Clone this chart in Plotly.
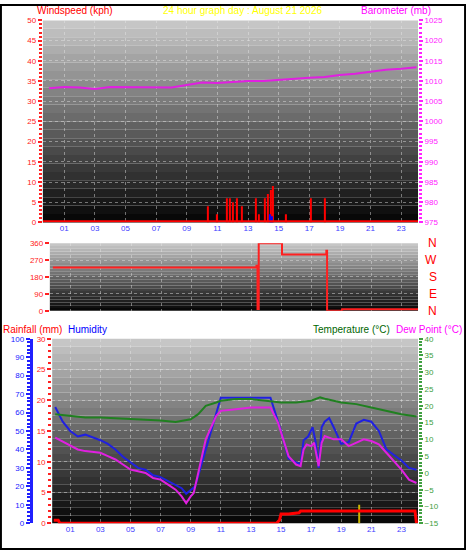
import plotly.graph_objects as go

# barometer (mb)
baro_h = [0, 1, 2, 3, 4, 5, 6, 7, 8, 9, 10, 11, 12, 13, 14, 15, 16, 17, 18, 19, 20, 21, 22, 23, 24]
baro = [1008.2, 1008.5, 1008.4, 1008.0, 1008.5, 1008.5, 1008.5, 1008.5, 1008.4, 1009.0, 1009.6, 1009.5,
        1009.8, 1010.0, 1010.0, 1010.3, 1010.6, 1010.8, 1011.0, 1011.5, 1011.8, 1012.3, 1012.8, 1013.0, 1013.4]

# wind speed (kph)
wind_h = [10.4, 11.0, 11.6, 11.8, 12.0, 12.3, 12.6, 13.5, 13.7, 14.1, 14.3, 14.5, 14.65, 15.5, 17.1, 18.0]
wind = [4, 2, 6, 6, 5, 6, 4, 6, 2, 6, 7, 8, 9, 2, 6, 6]
gust_h = [14.4, 14.55]
gust = [2, 1.5]

# wind direction (deg)
dir_h = [-0.2, 13.2, 13.35, 13.42, 13.5, 15.0, 15.05, 17.9, 18.0, 18.05, 19.0, 19.05, 24.1]
wdir = [230, 230, 240, 10, 360, 360, 300, 300, 320, 0, 0, 8, 8]

# temperature (C)
temp_h = [0, 1, 2, 3, 4, 5, 6, 7, 8, 9, 9.5, 10, 10.7, 11, 12, 13, 14, 15, 16, 17, 17.6, 18, 19, 20, 21, 22, 23, 24]
temp = [17.5, 17, 16.5, 16.5, 16.3, 16, 15.8, 15.6, 15.2, 16, 17.5, 20, 21, 21.5, 22, 22, 21.5, 21, 21, 21.5, 22.5, 22, 21, 20.5, 19.5, 18.5, 17.5, 16.8]

# humidity (%)
hum_h = [0, 0.5, 1.0, 1.5, 2, 3, 3.5, 4, 4.5, 5, 5.5, 6, 6.5, 7, 7.5, 8, 8.4, 8.7, 9.0, 9.3, 10, 10.7, 11, 12, 13, 14.3,
         15, 15.5, 16, 16.3, 16.5, 16.8, 17.1, 17.3, 17.5, 17.7, 17.9, 18.2, 18.5, 19, 19.5, 20, 20.5, 21, 21.5, 22,
         22.5, 23, 23.5, 24]
hum = [63, 55, 50, 47, 48, 45, 43, 40, 36, 33, 30, 29, 26, 25, 23, 21, 19, 16, 18, 20, 40, 60, 68, 68, 68, 68,
       50, 35, 33, 32, 45, 47, 52, 44, 30, 52, 55, 57, 52, 43, 44, 54, 56, 55, 50, 40,
       37, 34, 30, 29]

# dew point (C)
dew_h = [0, 1, 1.5, 2, 3, 3.5, 4, 4.5, 5, 5.5, 6, 6.5, 7, 7.5, 8, 8.4, 8.7, 9.0, 9.2, 9.5, 10, 10.7, 11, 12, 13, 14.3,
         14.8, 15.5, 16, 16.3, 16.5, 16.7, 17.0, 17.2, 17.5, 17.7, 17.9, 18.5, 19, 19.5, 20, 20.5, 21, 21.5, 22, 23,
         23.5, 24]
dew = [10.5, 8, 7, 6.5, 6, 5, 4, 2.5, 1, 0.5, 0, -1.5, -2, -3.5, -5, -7, -9, -7, -6, 0, 10, 17, 18.5, 19, 19.5, 19.5,
       15, 5, 2.5, 2, 7, 8.5, 8, 9, 2, 9, 11, 10, 10, 8, 9, 10, 9.5, 8.5, 6, 1,
       -2, -3]

# rainfall (mm)
rain_h = [-0.1, 0.2, 0.3, 14.7, 14.9, 15.0, 15.5, 16.2, 16.3, 23.9, 24.0]
rain = [0.5, 0.5, 0, 0, 0.5, 1.5, 1.5, 1.7, 2.0, 2.0, 0]
rate_h = [20.2]
rate = [3]

hours = list(range(0, 25))
compass = ["N", "E", "S", "W", "N"]  # 0, 90, 180, 270, 360

fig = go.Figure()

D1 = [0.6, 0.97]
D2 = [0.438, 0.562]
D3 = [0.049, 0.387]
X1 = [0.092, 0.897]
X2 = [0.107, 0.897]
X3 = [0.112, 0.897]

# panel 1
fig.add_trace(go.Bar(x=wind_h, y=wind, width=0.08, marker_color="#ff0000", marker_line_width=0,
                     xaxis="x", yaxis="y"))
fig.add_trace(go.Bar(x=gust_h, y=gust, width=0.08, marker_color="#0000ff", marker_line_width=0,
                     xaxis="x", yaxis="y"))
fig.add_trace(go.Scatter(x=[-0.4, 24.1], y=[0.3, 0.3], mode="lines", line=dict(color="#ff0000", width=2),
                         xaxis="x", yaxis="y"))
fig.add_trace(go.Scatter(x=baro_h, y=baro, mode="lines", line=dict(color="#e020e0", width=2),
                         xaxis="x", yaxis="y2"))
# panel 2
fig.add_trace(go.Scatter(x=dir_h, y=wdir, mode="lines", line=dict(color="#ff2020", width=2, shape="hv"),
                         xaxis="x2", yaxis="y3"))
# panel 3
fig.add_trace(go.Scatter(x=temp_h, y=temp, mode="lines", line=dict(color="#208020", width=2),
                         xaxis="x3", yaxis="y6"))
fig.add_trace(go.Scatter(x=hum_h, y=hum, mode="lines", line=dict(color="#2020e0", width=2),
                         xaxis="x3", yaxis="y4"))
fig.add_trace(go.Scatter(x=dew_h, y=dew, mode="lines", line=dict(color="#e020e0", width=2),
                         xaxis="x3", yaxis="y6"))
fig.add_trace(go.Bar(x=rate_h, y=rate, width=0.07, marker_color="#c8b400", marker_line_width=0,
                     xaxis="x3", yaxis="y5"))
fig.add_trace(go.Scatter(x=rain_h, y=rain, mode="lines", line=dict(color="#ff0000", width=3),
                         xaxis="x3", yaxis="y5"))

font = "Liberation Sans"
grid = dict(showgrid=True, gridcolor="rgba(230,230,230,0.45)", griddash="dot", gridwidth=1, zeroline=False)
xcommon = dict(tickmode="array", tickvals=[h for h in hours if h % 2 == 1],
               ticktext=["%02d" % h for h in hours if h % 2 == 1],
               tickfont=dict(color="#4040ff", size=8, family=font), ticks="", **grid)

def yax(color, rng, dtick, **kw):
    d = dict(range=rng, dtick=dtick, tickfont=dict(color=color, size=8, family=font),
             ticks="outside", ticklen=4, tickcolor=color, tickwidth=2,
             minor=dict(ticks="outside", ticklen=3, tickcolor=color, tickwidth=2, nticks=5, showgrid=False),
             fixedrange=True)
    d.update(grid)
    d.update(kw)
    return d

fig.update_layout(
    width=466, height=555, margin=dict(l=0, r=0, t=0, b=0),
    paper_bgcolor="white", plot_bgcolor="rgba(0,0,0,0)", showlegend=False, barmode="overlay",
    xaxis=dict(domain=X1, range=[-0.4, 24.1], anchor="y", **xcommon),
    xaxis2=dict(domain=X2, range=[-0.4, 24.1], anchor="y3", showticklabels=False,
                **{k: v for k, v in xcommon.items() if k != "tickfont"}),
    xaxis3=dict(domain=X3, range=[-0.2, 24.1], anchor="y5", **xcommon),
    yaxis=yax("#ff2020", [0, 50], 5, domain=D1, anchor="x"),
    yaxis2=yax("#ff20ff", [975, 1025], 5, domain=D1, overlaying="y", side="right", anchor="x", showgrid=False),
    yaxis3=yax("#ff2020", [0, 360], 90, domain=D2, anchor="x2"),
    yaxis4=yax("#2020ff", [0, 100], 10, domain=D3, anchor="free", position=0.066,
               showline=True, linecolor="#2020ff", linewidth=3, showgrid=False),
    yaxis5=yax("#ff2020", [0, 30], 5, domain=D3, anchor="x3", overlaying="y4"),
    yaxis6=yax("#40a040", [-15, 40], 5, domain=D3, anchor="x3", overlaying="y4", side="right", showgrid=False),
)

# gradient backgrounds
shapes = []
n = 24
for xa, ya in (("x", "y"), ("x2", "y3"), ("x3", "y5")):
    for i in range(n):
        v = int(190 * (1 - i / (n - 1)) + 8)
        shapes.append(dict(type="rect", xref=xa + " domain", yref=ya + " domain", x0=0, x1=1,
                           y0=1 - (i + 1) / n, y1=1 - i / n, fillcolor="rgb(%d,%d,%d)" % (v, v, v),
                           line_width=0, layer="below"))
shapes.append(dict(type="rect", xref="paper", yref="paper", x0=0.002, x1=0.998, y0=0.002, y1=0.998,
                   line=dict(color="black", width=2)))
fig.update_layout(shapes=shapes)

ann = [
    ("Windspeed (kph)", 0.075, 1.002, "left", "#ff0000"),
    ("24 hour graph day : August 21 2026", 0.52, 1.002, "center", "#ffff00"),
    ("Barometer (mb)", 0.93, 1.002, "right", "#ff00ff"),
    ("Rainfall (mm)", 0.002, 0.417, "left", "#ff0000"),
    ("Humidity", 0.142, 0.417, "left", "#0000ff"),
    ("Temperature (°C)", 0.842, 0.417, "right", "#006600"),
    ("Dew Point (°C)", 0.996, 0.417, "right", "#ff00ff"),
]
for t, x, y, xa, c in ann:
    fig.add_annotation(text=t, x=x, y=y, xref="paper", yref="paper", xanchor=xa, yanchor="top",
                       showarrow=False, font=dict(color=c, size=10, family=font))
for i, lab in enumerate(compass):
    fig.add_annotation(text=lab, x=0.942, y=D2[0] + (D2[1] - D2[0]) * i / 4, xref="paper", yref="paper",
                       showarrow=False, font=dict(color="#ff0000", size=12, family=font))

fig.write_html("out.html", config={"displayModeBar": False},
               post_script="document.body.style.margin='0';")
